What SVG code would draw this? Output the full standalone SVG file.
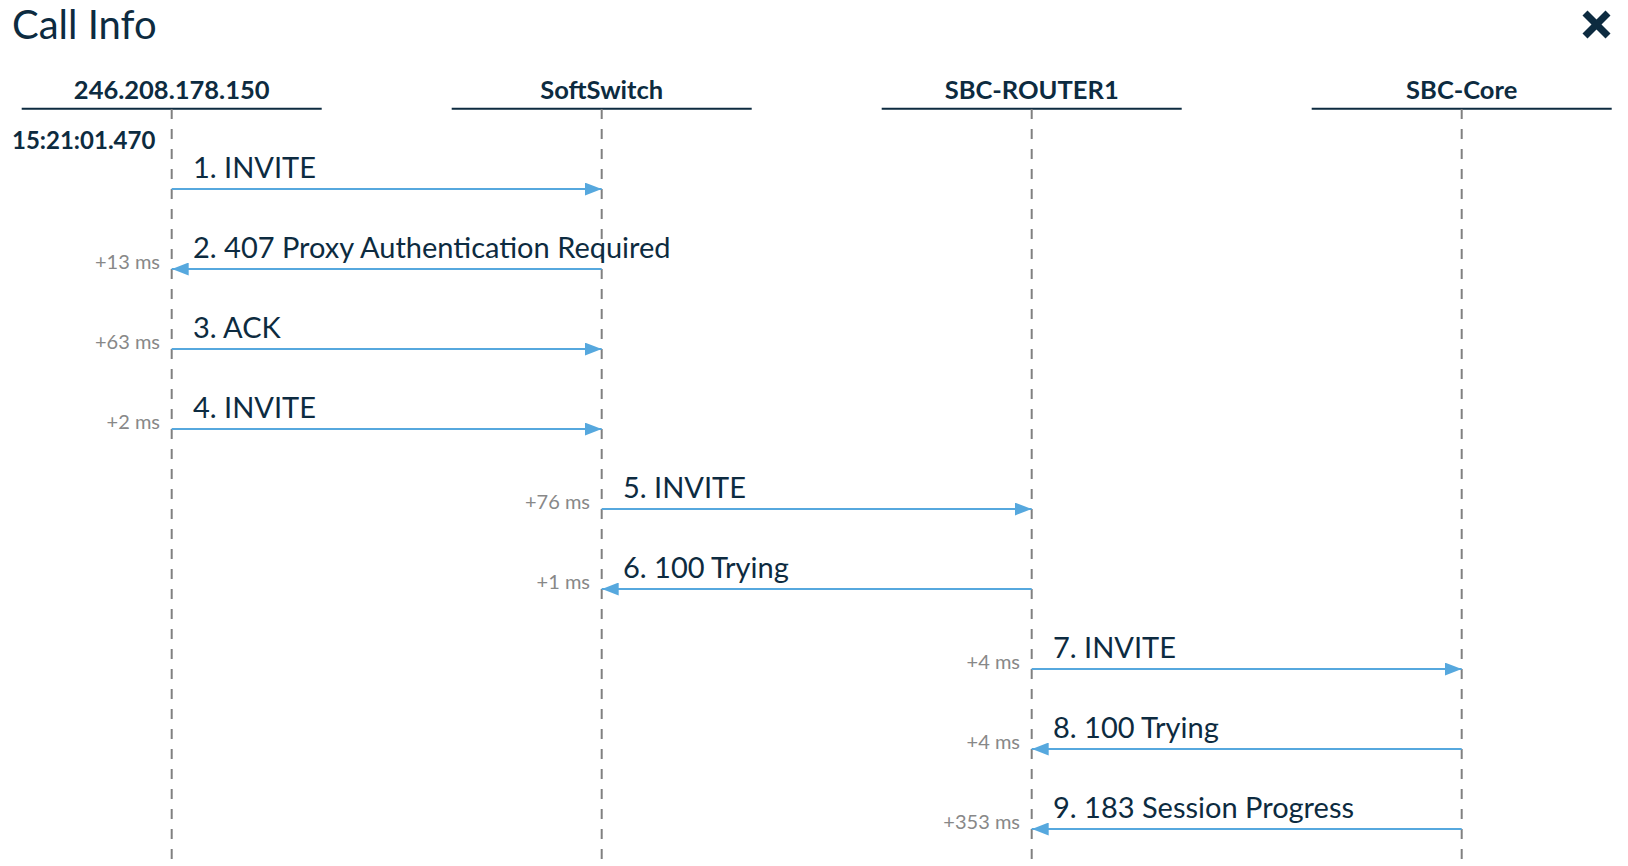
<svg xmlns="http://www.w3.org/2000/svg" width="1628" height="866" viewBox="0 0 1628 866">
<style>
.title{font-family:Lato,"Liberation Sans",sans-serif;font-size:40px;fill:#0d2b40}
.hdr{font-family:Lato,"Liberation Sans",sans-serif;font-size:25.5px;font-weight:bold;fill:#0d2b40;text-anchor:middle}
.ts{font-family:Lato,"Liberation Sans",sans-serif;font-size:24px;font-weight:bold;fill:#0d2b40}
.hline{stroke:#0d2b40;stroke-width:2}
.life{stroke:#808080;stroke-width:2;stroke-dasharray:10 10}
.msg{stroke:#56a8de;stroke-width:2;fill:none;marker-end:url(#arr)}
.lbl{font-family:Lato,"Liberation Sans",sans-serif;font-size:29px;fill:#0d2b40}
.dt{font-family:Lato,"Liberation Sans",sans-serif;font-size:20px;fill:#888888;text-anchor:end}
</style>
<defs>
<marker id="arr" markerUnits="userSpaceOnUse" markerWidth="17" markerHeight="13" refX="17" refY="6.5" orient="auto">
<path d="M0,0 L17,6.5 L0,13 Z" fill="#56a8de"/>
</marker>
</defs>
<rect width="1628" height="866" fill="#ffffff"/>
<text class="title" x="12" y="39">Call Info</text>
<g id="close" stroke="#0d2b40" stroke-width="7">
<line x1="1585" y1="13" x2="1608" y2="36"/>
<line x1="1608" y1="13" x2="1585" y2="36"/>
</g>
<g id="node-ip">
<text class="hdr" x="171.7" y="98.5">246.208.178.150</text>
<line class="hline" x1="21.7" y1="108.7" x2="321.7" y2="108.7"/>
<line class="life" x1="171.7" y1="109" x2="171.7" y2="859"/>
</g>
<g id="node-softswitch">
<text class="hdr" x="601.7" y="98.5">SoftSwitch</text>
<line class="hline" x1="451.7" y1="108.7" x2="751.7" y2="108.7"/>
<line class="life" x1="601.7" y1="109" x2="601.7" y2="859"/>
</g>
<g id="node-router">
<text class="hdr" x="1031.7" y="98.5">SBC-ROUTER1</text>
<line class="hline" x1="881.7" y1="108.7" x2="1181.7" y2="108.7"/>
<line class="life" x1="1031.7" y1="109" x2="1031.7" y2="859"/>
</g>
<g id="node-core">
<text class="hdr" x="1461.7" y="98.5">SBC-Core</text>
<line class="hline" x1="1311.7" y1="108.7" x2="1611.7" y2="108.7"/>
<line class="life" x1="1461.7" y1="109" x2="1461.7" y2="859"/>
</g>
<text class="ts" x="12" y="148.5">15:21:01.470</text>
<g id="connectors">
<line class="msg" x1="171.7" y1="189" x2="601.7" y2="189"/>
<text class="lbl" x="193" y="178">1. INVITE</text>

<line class="msg" x1="601.7" y1="269" x2="171.7" y2="269"/>
<text class="lbl" x="193" y="258">2. 407 Proxy Authentication Required</text>
<text class="dt" x="160" y="268.5">+13 ms</text>

<line class="msg" x1="171.7" y1="349" x2="601.7" y2="349"/>
<text class="lbl" x="193" y="338">3. ACK</text>
<text class="dt" x="160" y="348.5">+63 ms</text>

<line class="msg" x1="171.7" y1="429" x2="601.7" y2="429"/>
<text class="lbl" x="193" y="418">4. INVITE</text>
<text class="dt" x="160" y="428.5">+2 ms</text>

<line class="msg" x1="601.7" y1="509" x2="1031.7" y2="509"/>
<text class="lbl" x="623" y="498">5. INVITE</text>
<text class="dt" x="590" y="508.5">+76 ms</text>

<line class="msg" x1="1031.7" y1="589" x2="601.7" y2="589"/>
<text class="lbl" x="623" y="578">6. 100 Trying</text>
<text class="dt" x="590" y="588.5">+1 ms</text>

<line class="msg" x1="1031.7" y1="669" x2="1461.7" y2="669"/>
<text class="lbl" x="1053" y="658">7. INVITE</text>
<text class="dt" x="1020" y="668.5">+4 ms</text>

<line class="msg" x1="1461.7" y1="749" x2="1031.7" y2="749"/>
<text class="lbl" x="1053" y="738">8. 100 Trying</text>
<text class="dt" x="1020" y="748.5">+4 ms</text>

<line class="msg" x1="1461.7" y1="829" x2="1031.7" y2="829"/>
<text class="lbl" x="1053" y="818">9. 183 Session Progress</text>
<text class="dt" x="1020" y="828.5">+353 ms</text>
</g>
</svg>
